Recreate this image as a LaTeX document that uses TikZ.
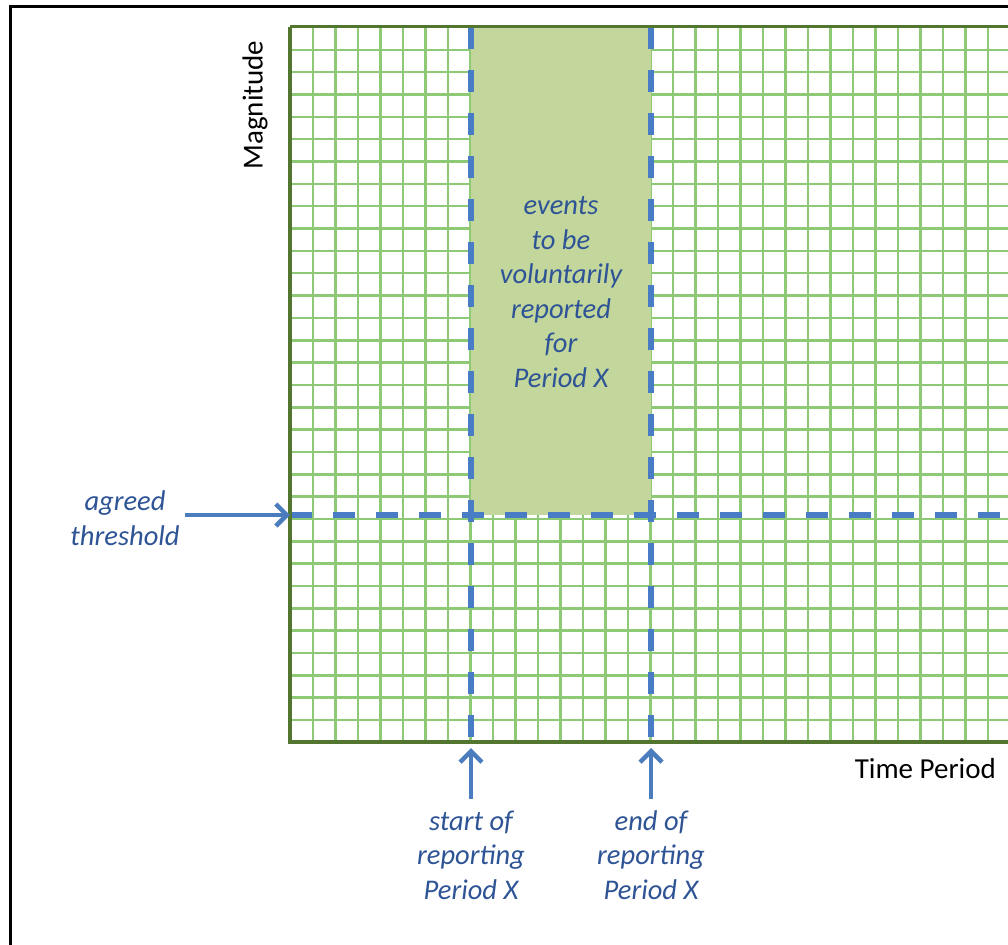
\documentclass[tikz,border=0pt]{standalone}
\usepackage{fontspec}
\setmainfont{Carlito}
\usetikzlibrary{arrows.meta}
\definecolor{gridgreen}{RGB}{142,201,118}
\definecolor{axisgreen}{RGB}{82,118,48}
\definecolor{periodfill}{RGB}{195,214,155}
\definecolor{dashblue}{RGB}{72,124,196}
\definecolor{arrowblue}{RGB}{74,124,190}
\definecolor{labelblue}{RGB}{46,84,150}

\begin{document}
\begin{tikzpicture}[x=1pt,y=-1pt,
  gridline/.style={gridgreen, line width=2.5pt},
  axis/.style={axisgreen, line width=3.8pt},
  marker/.style={dashblue, line width=5.5pt, dash pattern=on 22pt off 21pt},
  pointer/.style={arrowblue, line width=4.5pt, -{Straight Barb[length=11pt,width=22pt]}},
  note/.style={labelblue, font=\fontsize{28.5}{34.6}\selectfont\itshape, align=center, inner sep=0pt},
  axislabel/.style={black, font=\fontsize{29}{32}\selectfont, inner sep=0pt}]
\useasboundingbox (0,0) rectangle (1008,944);
\fill[white] (0,0) rectangle (1008,944);

% anchor points of the chart
\coordinate (startTop) at (471,27);
\coordinate (startBot) at (471,742);
\coordinate (endTop) at (651,27);
\coordinate (endBot) at (651,742);
\coordinate (thrLeft) at (290,515);
\coordinate (thrRight) at (1012,515);
\coordinate (thrTail) at (185,515);
\coordinate (startTail) at (471,799);
\coordinate (startTip) at (471,748);
\coordinate (endTail) at (651,799);
\coordinate (endTip) at (651,748);

\begin{scope}
  \clip (0,0) rectangle (1008,944);
  % graph paper
  \foreach \k in {1,...,32}
    \draw[gridline] ({290.5+22.5*\k},27) -- ({290.5+22.5*\k},742);
  \foreach \k in {1,...,31}
    \draw[gridline] (290,{27.5+22.34*\k}) -- (1012,{27.5+22.34*\k});
  % reporting window above the threshold
  \fill[periodfill] (471,27) rectangle (651,515);
  % period boundaries and threshold
  \draw[marker] (startTop) -- (startBot);
  \draw[marker] (endTop) -- (endBot);
  \draw[marker] (thrLeft) -- (thrRight);
  % chart frame
  \draw[axisgreen, line width=3pt] (1012,27) -- (290,27);
  \draw[axis] (290,27) -- (290,742) -- (1012,742);
  % outer frame
  \draw[black, line width=3pt] (10.5,950) -- (10.5,6.8) -- (1012,6.8);
\end{scope}

% labels
\node[note] (events) at (561,292) {events\\to be\\voluntarily\\reported\\for\\Period X};
\node[note] (thr) at (125,518) {agreed\\threshold};
\node[note] (start) at (471,855) {start of\\reporting\\Period X};
\node[note] (end) at (651,855) {end of\\reporting\\Period X};
\node[axislabel, anchor=east] (time) at (996,769) {Time Period};
\node[axislabel, rotate=90] (mag) at (255,105) {Magnitude};

% pointers
\draw[pointer] (thrTail) -- (thrLeft);
\draw[pointer] (startTail) -- (startTip);
\draw[pointer] (endTail) -- (endTip);
\end{tikzpicture}
\end{document}
